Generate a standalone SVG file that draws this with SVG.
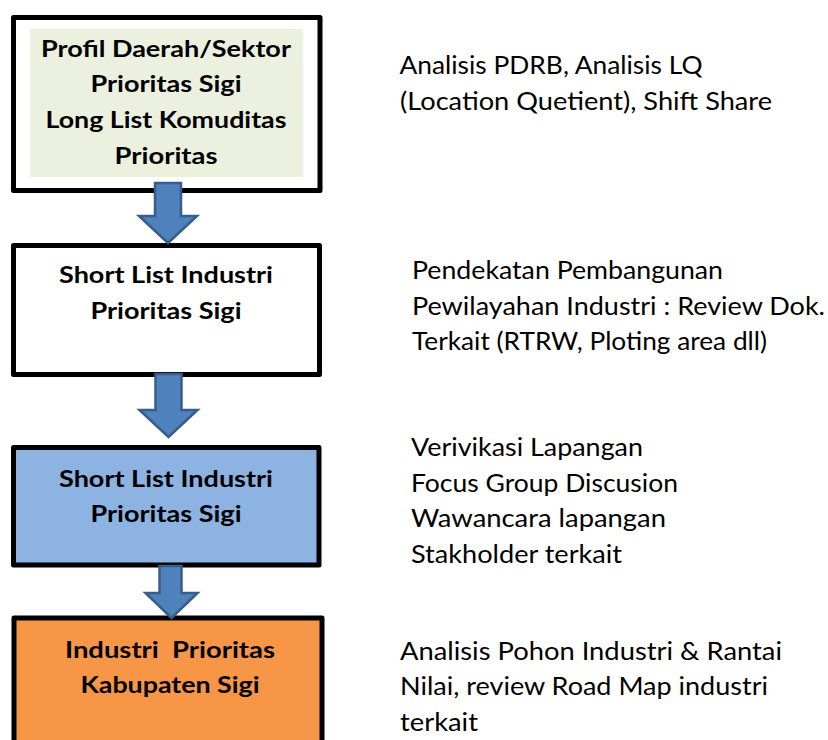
<svg xmlns="http://www.w3.org/2000/svg" width="828" height="740" viewBox="0 0 828 740">
<style>
.box{stroke:#000;stroke-width:5;stroke-linejoin:round}
.b{font-family:Lato,"Liberation Sans",sans-serif;font-weight:bold;font-size:22.5px;fill:#000;text-anchor:middle}
.r{font-family:Lato,"Liberation Sans",sans-serif;font-size:24.5px;fill:#000}
.arr{fill:#4F81BD;stroke:#385D8A;stroke-width:2.5;stroke-linejoin:miter}
</style>
<rect width="828" height="740" fill="#fff"/>
<g id="node1">
<rect class="box" x="13.5" y="17.5" width="306.5" height="173" fill="#fff"/>
<rect x="30" y="29" width="273" height="148" fill="#EBF1DE"/>
<text class="b" x="166" y="57" textLength="250" lengthAdjust="spacingAndGlyphs">Profil Daerah/Sektor</text>
<text class="b" x="166" y="92" textLength="151" lengthAdjust="spacingAndGlyphs">Prioritas Sigi</text>
<text class="b" x="166" y="128" textLength="241" lengthAdjust="spacingAndGlyphs">Long List Komuditas</text>
<text class="b" x="166" y="164" textLength="103" lengthAdjust="spacingAndGlyphs">Prioritas</text>
</g>
<g id="node2">
<rect class="box" x="13.5" y="245.5" width="306" height="129" fill="#fff"/>
<text class="b" x="166" y="283" textLength="214" lengthAdjust="spacingAndGlyphs">Short List Industri</text>
<text class="b" x="166" y="319" textLength="151" lengthAdjust="spacingAndGlyphs">Prioritas Sigi</text>
</g>
<g id="node3">
<rect class="box" x="13.5" y="447.5" width="305.5" height="117.5" fill="#8DB3E2"/>
<text class="b" x="166" y="487" textLength="214" lengthAdjust="spacingAndGlyphs">Short List Industri</text>
<text class="b" x="166" y="522" textLength="151" lengthAdjust="spacingAndGlyphs">Prioritas Sigi</text>
</g>
<g id="node4">
<rect class="box" x="14" y="618" width="308" height="140" fill="#F79646"/>
<text class="b" x="170" y="658" textLength="210" lengthAdjust="spacingAndGlyphs" xml:space="preserve">Industri  Prioritas</text>
<text class="b" x="170" y="693" textLength="179" lengthAdjust="spacingAndGlyphs">Kabupaten Sigi</text>
</g>
<g id="note1">
<text class="r" x="399.5" y="74" textLength="303" lengthAdjust="spacingAndGlyphs">Analisis PDRB, Analisis LQ</text>
<text class="r" x="400" y="110" textLength="372" lengthAdjust="spacingAndGlyphs">(Location Quetient), Shift Share</text>
</g>
<g id="note2">
<text class="r" x="412" y="279" textLength="311" lengthAdjust="spacingAndGlyphs">Pendekatan Pembangunan</text>
<text class="r" x="412" y="315" textLength="413" lengthAdjust="spacingAndGlyphs">Pewilayahan Industri : Review Dok.</text>
<text class="r" x="412" y="350" textLength="355" lengthAdjust="spacingAndGlyphs">Terkait (RTRW, Ploting area dll)</text>
</g>
<g id="note3">
<text class="r" x="411" y="456" textLength="232" lengthAdjust="spacingAndGlyphs">Verivikasi Lapangan</text>
<text class="r" x="411" y="492" textLength="267" lengthAdjust="spacingAndGlyphs">Focus Group Discusion</text>
<text class="r" x="411" y="527" textLength="255" lengthAdjust="spacingAndGlyphs">Wawancara lapangan</text>
<text class="r" x="411" y="563" textLength="211" lengthAdjust="spacingAndGlyphs">Stakholder terkait</text>
</g>
<g id="note4">
<text class="r" x="400" y="660" textLength="382" lengthAdjust="spacingAndGlyphs">Analisis Pohon Industri &amp; Rantai</text>
<text class="r" x="400" y="695" textLength="368" lengthAdjust="spacingAndGlyphs">Nilai, review Road Map industri</text>
<text class="r" x="400" y="731" textLength="78" lengthAdjust="spacingAndGlyphs">terkait</text>
</g>
<g id="connectors">
<path class="arr" d="M155,183 H181 V216 H197 L168,243 L139,216 H155 Z"/>
<path class="arr" d="M155.5,374 H181.5 V410 H197.5 L168.5,437 L139.5,410 H155.5 Z"/>
<path class="arr" d="M159.5,566 H181.5 V593 H197.5 L171.5,618 L145.5,593 H159.5 Z"/>
</g>
</svg>
